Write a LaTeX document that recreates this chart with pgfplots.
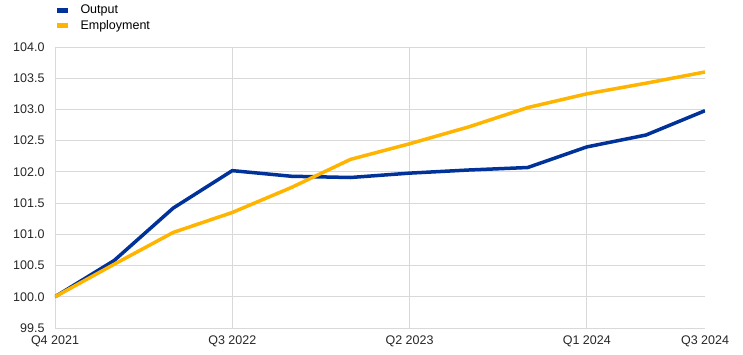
\documentclass[border=0pt]{standalone}
\usepackage{pgfplots}
\pgfplotsset{compat=1.18}
\usepackage{fontspec}
\setmainfont{Liberation Sans}
\definecolor{ecbblue}{HTML}{003299}
\definecolor{ecbyellow}{HTML}{FFB400}
\definecolor{gridgrey}{HTML}{D9D9D9}
\begin{document}
\begin{tikzpicture}
\begin{axis}[
  at={(0pt,0pt)}, anchor=south west,
  scale only axis, width=650pt, height=281pt,
  xmin=0, xmax=11, ymin=99.5, ymax=104,
  axis x line*=bottom, axis y line*=left,
  axis line style={-, draw=gridgrey, line width=0.8pt},
  xtick={0,3,6,9},
  xticklabels={Q4 2021,Q3 2022,Q2 2023,Q1 2024},
  extra x ticks={11}, extra x tick labels={Q3 2024},
  extra x tick style={grid=none},
  ytick={99.5,100,...,104},
  major tick length=0pt,
  grid=major,
  major grid style={draw=gridgrey, line width=0.8pt},
  tick label style={font=\fontsize{12.5}{15}\selectfont, text=black!85},
  /pgf/number format/assume math mode=true,
  yticklabel style={/pgf/number format/fixed, /pgf/number format/fixed zerofill, /pgf/number format/precision=1, xshift=-7pt},
  xticklabel style={yshift=-4pt},
  legend style={at={(0,1)}, anchor=south west, yshift=14pt, draw=none, fill=none,
    inner sep=0pt, outer sep=0pt, font=\fontsize{12.5}{15}\selectfont,
    row sep=1pt, cells={anchor=west}, /tikz/column 1/.style={column sep=8pt}},
  legend image code/.code={\draw[line width=4.5pt] (0pt,0pt) -- (11pt,0pt);},
]
\addplot[ecbblue, line width=3.5pt, line join=round] coordinates {
(0,100.0) (1,100.58) (2,101.42) (3,102.02) (4,101.93) (5,101.91)
(6,101.98) (7,102.03) (8,102.07) (9,102.40) (10,102.59) (11,102.98)};
\addlegendentry{Output}
\addplot[ecbyellow, line width=3.5pt, line join=round] coordinates {
(0,100.0) (1,100.52) (2,101.03) (3,101.35) (4,101.75) (5,102.20)
(6,102.45) (7,102.72) (8,103.03) (9,103.25) (10,103.42) (11,103.60)};
\addlegendentry{Employment}
\end{axis}
\pgfresetboundingbox
\path (-55pt,-27pt) rectangle (688pt,328pt);
\end{tikzpicture}
\end{document}
